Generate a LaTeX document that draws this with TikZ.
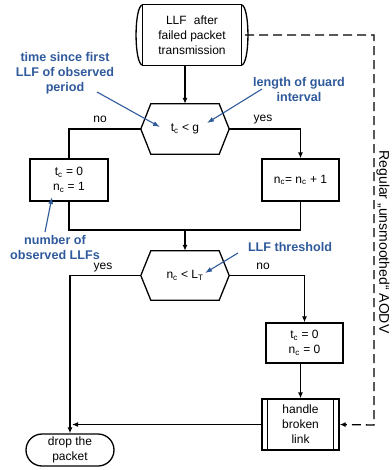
\documentclass[tikz,border=0pt]{standalone}
\usepackage{fontspec}
\setmainfont{Liberation Sans}
\usetikzlibrary{arrows.meta,shapes.misc}
\definecolor{noteblue}{RGB}{47,90,155}
\newcommand{\sbs}[1]{\textsubscript{#1}}
% hexagonal decision outline around a plain node
\newcommand{\drawhex}[1]{%
  \draw[flow] (#1.west) -- ([xshift=10pt]#1.north west) -- ([xshift=-10pt]#1.north east)
    -- (#1.east) -- ([xshift=-10pt]#1.south east) -- ([xshift=10pt]#1.south west) -- cycle;}

\begin{document}
\begin{tikzpicture}[x=1pt,y=-1pt,
  base/.style={font=\fontsize{12}{15}\selectfont, align=center, inner sep=0pt},
  box/.style={base, draw, line width=1.3pt},
  flow/.style={line width=1.3pt},
  arr/.style={flow, -{Latex[length=6pt,width=5pt]}},
  dashline/.style={flow, dash pattern=on 9pt off 5pt, -{Latex[length=6pt,width=5pt]}},
  note/.style={font=\bfseries\fontsize{12.6}{15}\selectfont, text=noteblue, align=center, inner sep=0pt},
  noteline/.style={draw=noteblue, line width=1.1pt, -{Latex[length=7pt,width=5pt]}},
  lbl/.style={font=\fontsize{12}{15}\selectfont, inner sep=0pt},
]
\useasboundingbox (0,0) rectangle (391,470);

% start event: box with rounded drum sides
\node[base, minimum width=98pt, minimum height=60pt] (start) at (192,35)
  {LLF\hspace{0.6em}after\\failed packet\\transmission};
\draw[flow] (start.north west) rectangle (start.south east);
\draw[flow] (start.north west) .. controls ([xshift=-9pt]start.north west) and ([xshift=-9pt]start.south west) .. (start.south west);
\draw[flow] (start.north east) .. controls ([xshift=9pt]start.north east) and ([xshift=9pt]start.south east) .. (start.south east);

% decisions
\node[base, minimum width=88pt, minimum height=50pt] (test1) at (185,129) {t\sbs{c} < g};
\drawhex{test1}
\node[base, minimum width=88pt, minimum height=49pt] (test2) at (185,275.5) {n\sbs{c} < L\sbs{T}};
\drawhex{test2}

% process boxes
\node[box, minimum width=78pt, minimum height=42pt] (box1) at (69,180) {t\sbs{c} = 0\\n\sbs{c} = 1};
\node[box, minimum width=77pt, minimum height=42pt] (box2) at (300.5,180) {n\sbs{c}= n\sbs{c} + 1};
\node[box, minimum width=77pt, minimum height=40pt] (box3) at (304.5,343) {t\sbs{c} = 0\\n\sbs{c} = 0};
\node[box, minimum width=77pt, minimum height=51pt] (handle) at (300.5,424.5) {handle\\broken\\link};
\draw[flow] ([xshift=6pt]handle.north west) -- ([xshift=6pt]handle.south west);
\draw[flow] ([xshift=-6pt]handle.north east) -- ([xshift=-6pt]handle.south east);
\node[base, draw, line width=1.3pt, rounded rectangle, minimum width=88pt, minimum height=32pt] (drop) at (70,450) {drop the\\packet};

% branch labels
\node[lbl] (no1) at (100,119) {no};
\node[lbl] (yes1) at (263,120) {yes};
\node[lbl] (yes2) at (103,267.5) {yes};
\node[lbl] (no2) at (263,266) {no};

% flow
\coordinate (jn) at (185,230);
\coordinate (dc) at (374,425);
\draw[arr] (start.south -| test1.north) -- (test1.north);
\draw[flow] (test1.west) -| (box1.north);
\draw[arr] (test1.east) -| (box2.north);
\draw[flow] (box1.south) |- (jn) -| (box2.south);
\draw[arr] (jn) -- (test2.north);
\draw[arr] (test2.west) -| (drop.north);
\draw[arr] (test2.east) -| (box3.north);
\draw[arr] (handle.north |- box3.south) -- (handle.north);
\draw[arr] (handle.west) -- ([xshift=2pt]drop.north |- handle.west);
\draw[dashline] ([xshift=4pt]start.east) -| (dc) -- (handle.east);
\node[font=\fontsize{14}{16}\selectfont, rotate=-90, inner sep=0pt] (aodv) at (383,242)
  {Regular „unsmoothed“ AODV};

% annotations
\node[note] (n1) at (65,73) {time since first\\LLF of observed\\period};
\node[note] (n2) at (299,89.5) {length of guard\\interval};
\node[note] (n3) at (55,247) {number of\\observed LLFs};
\node[note] (n4) at (290,247) {LLF threshold};
\coordinate (n1s) at (97,92);
\coordinate (n1e) at (160,127);
\coordinate (n2s) at (262,89);
\coordinate (n2e) at (207,123);
\coordinate (n3s) at (45,232);
\coordinate (n3e) at (52,197);
\coordinate (n4s) at (238,253);
\coordinate (n4e) at (205,273);
\draw[noteline] (n1s) -- (n1e);
\draw[noteline] (n2s) -- (n2e);
\draw[noteline] (n3s) -- (n3e);
\draw[noteline] (n4s) -- (n4e);
\end{tikzpicture}
\end{document}
